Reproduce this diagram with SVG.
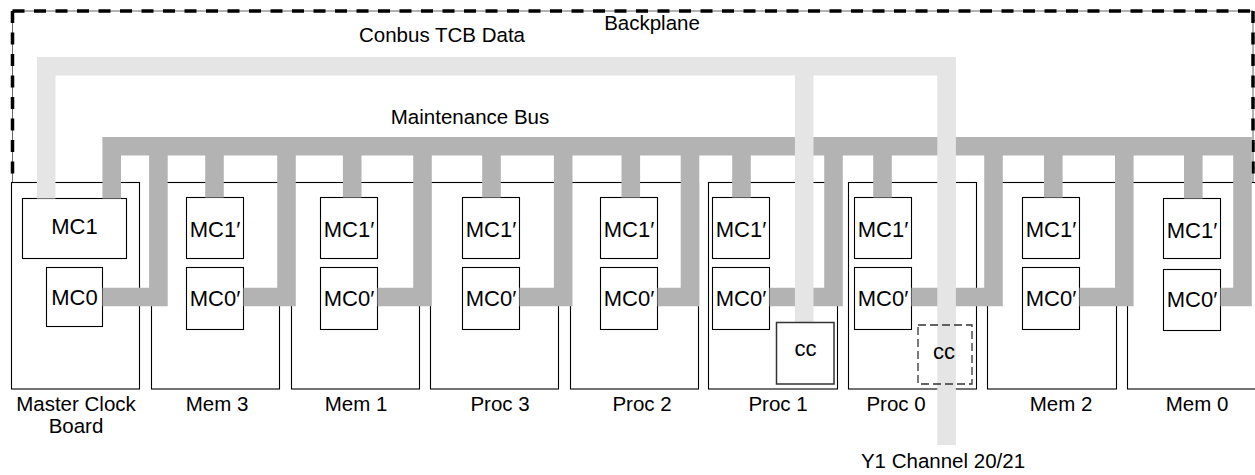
<svg xmlns="http://www.w3.org/2000/svg" width="1255" height="475" viewBox="0 0 1255 475">
<style>
  .board{fill:none;stroke:#000;stroke-width:1.1}
  .box{fill:#fff;stroke:#000;stroke-width:1.1}
  .t{font-family:"Liberation Sans",Arial,Helvetica,sans-serif;font-size:20.5px;fill:#000;text-anchor:middle}
  .bt{font-size:22px}
  .mbus{fill:none;stroke:#b3b3b3;stroke-width:18.6;stroke-linejoin:miter;stroke-linecap:butt}
  .cbus{fill:none;stroke:#e5e5e5;stroke-width:18.6;stroke-linejoin:miter;stroke-linecap:butt}
  .bpthin{fill:none;stroke:#666;stroke-width:1}
  .bpdash{fill:none;stroke:#000;stroke-width:3.5;stroke-dasharray:12 9.5}
</style>

<g id="backplane">
  <path class="bpthin" d="M12.5,182.5 V11 H1253 V182.5"/>
  <path class="bpdash" d="M12.5,11 H1253"/>
  <path class="bpdash" d="M12.5,11 V182.5"/>
  <path class="bpdash" d="M1253,11 V182.5"/>
  <text class="t" x="652" y="30">Backplane</text>
</g>

<g id="master-clock-board">
  <rect class="board" x="11.5" y="182.5" width="128" height="206.5"/>
  <rect class="box" x="22.5" y="198.5" width="104" height="60"/>
  <rect class="box" x="46.5" y="267.5" width="56" height="59"/>
  <text class="t bt" x="74.5" y="233.5">MC1</text>
  <text class="t bt" x="74.5" y="304.5">MC0</text>
  <text class="t" x="76" y="411">Master Clock</text>
  <text class="t" x="76" y="433">Board</text>
</g>

<g id="mem3">
  <rect class="board" x="151.5" y="182.5" width="128" height="206.5"/>
  <rect class="box" x="186.5" y="197.5" width="57" height="61"/>
  <rect class="box" x="186.5" y="267.5" width="57" height="62"/>
  <text class="t bt" x="215" y="237">MC1′</text>
  <text class="t bt" x="215" y="305.5">MC0′</text>
  <text class="t" x="217" y="411">Mem 3</text>
</g>

<g id="mem1">
  <rect class="board" x="291.5" y="182.5" width="128" height="206.5"/>
  <rect class="box" x="320.5" y="197.5" width="57" height="61"/>
  <rect class="box" x="320.5" y="267.5" width="57" height="62"/>
  <text class="t bt" x="349" y="237">MC1′</text>
  <text class="t bt" x="349" y="305.5">MC0′</text>
  <text class="t" x="356" y="411">Mem 1</text>
</g>

<g id="proc3">
  <rect class="board" x="430.5" y="182.5" width="128" height="206.5"/>
  <rect class="box" x="462.5" y="197.5" width="57" height="61"/>
  <rect class="box" x="462.5" y="267.5" width="57" height="62"/>
  <text class="t bt" x="491" y="237">MC1′</text>
  <text class="t bt" x="491" y="305.5">MC0′</text>
  <text class="t" x="500" y="411">Proc 3</text>
</g>

<g id="proc2">
  <rect class="board" x="570.5" y="182.5" width="128" height="206.5"/>
  <rect class="box" x="600.5" y="197.5" width="57" height="61"/>
  <rect class="box" x="600.5" y="267.5" width="57" height="62"/>
  <text class="t bt" x="629" y="237">MC1′</text>
  <text class="t bt" x="629" y="305.5">MC0′</text>
  <text class="t" x="642" y="411">Proc 2</text>
</g>

<g id="proc1">
  <rect class="board" x="708.5" y="182.5" width="129" height="206.5"/>
  <rect class="box" x="712.5" y="197.5" width="57" height="61"/>
  <rect class="box" x="712.5" y="267.5" width="57" height="62"/>
  <text class="t bt" x="741" y="237">MC1′</text>
  <text class="t bt" x="741" y="305.5">MC0′</text>
  <text class="t" x="778" y="411">Proc 1</text>
</g>

<g id="proc0">
  <rect class="board" x="848.5" y="182.5" width="128" height="206.5"/>
  <rect class="box" x="854.5" y="197.5" width="57" height="61"/>
  <rect class="box" x="854.5" y="267.5" width="57" height="62"/>
  <text class="t bt" x="883" y="237">MC1′</text>
  <text class="t bt" x="883" y="305.5">MC0′</text>
  <text class="t" x="896" y="411">Proc 0</text>
</g>

<g id="mem2">
  <rect class="board" x="987.5" y="182.5" width="129" height="206.5"/>
  <rect class="box" x="1022.5" y="197.5" width="57" height="61"/>
  <rect class="box" x="1022.5" y="267.5" width="57" height="62"/>
  <text class="t bt" x="1051" y="237">MC1′</text>
  <text class="t bt" x="1051" y="305.5">MC0′</text>
  <text class="t" x="1061" y="411">Mem 2</text>
</g>

<g id="mem0">
  <rect class="board" x="1127.5" y="182.5" width="130" height="206.5"/>
  <rect class="box" x="1163.5" y="198.5" width="57" height="60"/>
  <rect class="box" x="1163.5" y="269.5" width="57" height="61"/>
  <text class="t bt" x="1192" y="237.5">MC1′</text>
  <text class="t bt" x="1192" y="307">MC0′</text>
  <text class="t" x="1197" y="411">Mem 0</text>
</g>

<g id="connectors">
  <g id="maintenance-bus">
    <path class="mbus" d="M111.7,198.5 V146.2 H1242.5 V297 H1220.5"/>
    <path class="mbus" d="M158.4,146 V297 H102.5"/>
    <path class="mbus" d="M286.5,146 V297 H243.5"/>
    <path class="mbus" d="M422.5,146 V297 H377.5"/>
    <path class="mbus" d="M563.2,146 V297 H519.5"/>
    <path class="mbus" d="M690,146 V297 H657.5"/>
    <path class="mbus" d="M833.5,146 V297 H769.5"/>
    <path class="mbus" d="M993.5,146 V297 H911.5"/>
    <path class="mbus" d="M1124.3,146 V297 H1079.5"/>
    <path class="mbus" d="M214.5,146 V197.5"/>
    <path class="mbus" d="M352.2,146 V197.5"/>
    <path class="mbus" d="M491.5,146 V197.5"/>
    <path class="mbus" d="M630.8,146 V197.5"/>
    <path class="mbus" d="M741.5,146 V197.5"/>
    <path class="mbus" d="M882.5,146 V197.5"/>
    <path class="mbus" d="M1053.3,146 V197.5"/>
    <path class="mbus" d="M1193.3,146 V198.5"/>
    <text class="t" x="470" y="124">Maintenance Bus</text>
  </g>
  <g id="conbus">
    <path class="cbus" d="M46.2,198.5 V66.2 H946.6 V445"/>
    <path class="cbus" d="M804.2,66.2 V322.5"/>
    <text class="t" x="442" y="42">Conbus TCB Data</text>
    <text class="t" x="943" y="468">Y1 Channel 20/21</text>
  </g>
</g>

<g id="proc1-cc">
  <rect x="776.5" y="322.5" width="57.5" height="61.5" fill="#fff" stroke="#333" stroke-width="1.5"/>
  <text class="t bt" x="805.5" y="356">cc</text>
</g>

<g id="proc0-cc">
  <rect x="918" y="325" width="54" height="59" fill="none" stroke="#333" stroke-width="1.3" stroke-dasharray="8 4"/>
  <text class="t bt" x="944" y="358.5">cc</text>
</g>
</svg>
